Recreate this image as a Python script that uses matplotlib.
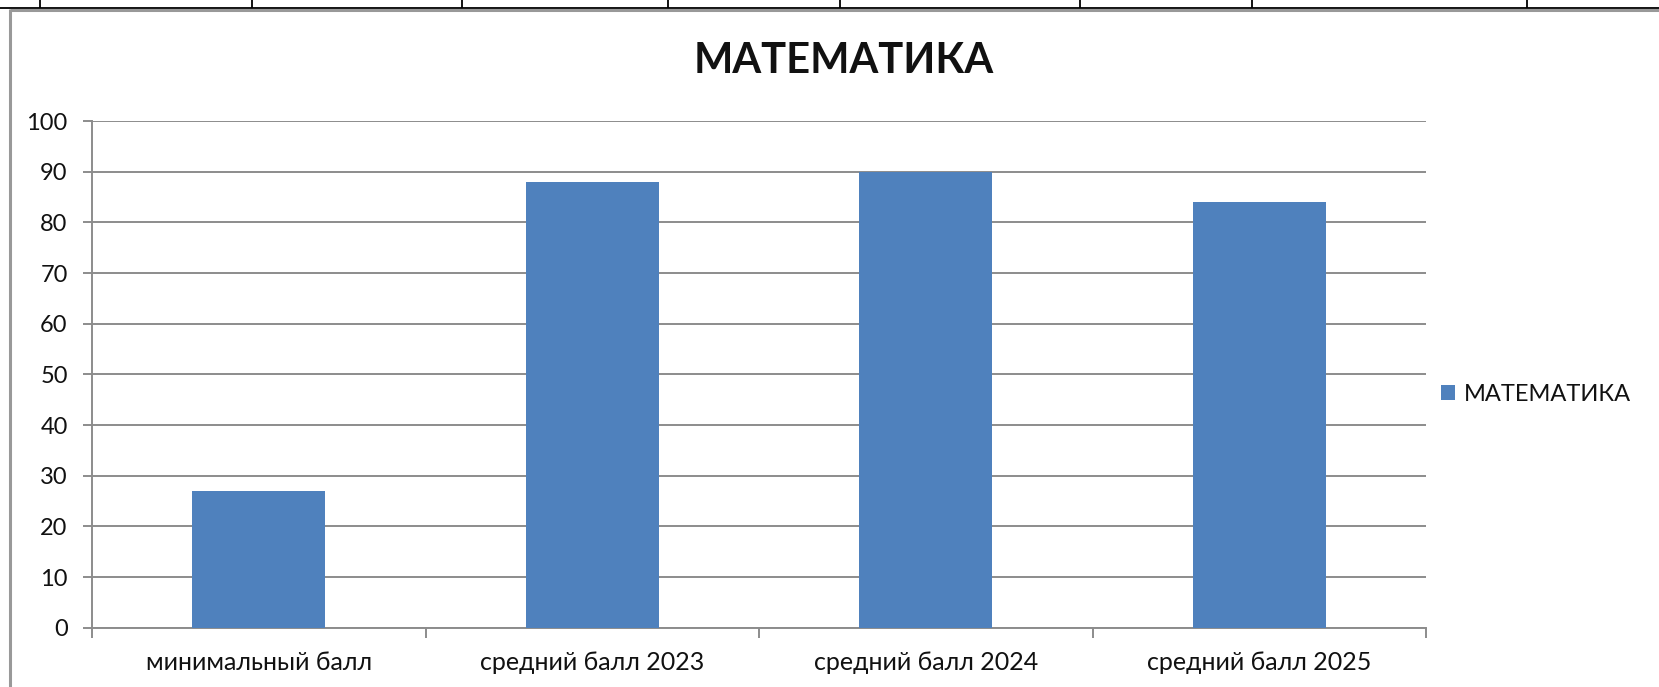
import matplotlib.pyplot as plt
from matplotlib.lines import Line2D
import numpy as np

categories = ['минимальный балл', 'средний балл 2023', 'средний балл 2024', 'средний балл 2025']
scores = [27, 88, 90, 84]
series_name = 'МАТЕМАТИКА'
y_ticks = [0, 10, 20, 30, 40, 50, 60, 70, 80, 90, 100]

plt.rcParams['font.family'] = ['Lato', 'DejaVu Sans']
text_color = '#111111'
grid_color = '#8c8c8c'

W, H = 1659, 687
fig = plt.figure(figsize=(W / 100, H / 100), dpi=100)
fig.patch.set_facecolor('white')

# chart area in pixel coords
left, right, top, bottom = 92, 1426, 121, 627.7
ax = fig.add_axes([left / W, 1 - bottom / H, (right - left) / W, (bottom - top) / H])

ind = np.arange(len(categories))
ax.bar(ind, scores, width=0.4, color='#4F81BD', zorder=3, label=series_name)

ax.set_xlim(-0.5, len(categories) - 0.5)
ax.set_ylim(0, 100)
ax.set_yticks(y_ticks)
ax.set_yticklabels([str(t) for t in y_ticks])
ax.yaxis.grid(True, color=grid_color, linewidth=1.4, zorder=0)

# category labels centred, tick marks at boundaries
ax.set_xticks(np.arange(-0.5, len(categories), 1.0))
ax.set_xticklabels([])
ax.set_xticks(ind, minor=True)
ax.set_xticklabels(categories, minor=True)
ax.tick_params(axis='x', which='major', length=7, width=1.4, color=grid_color, direction='out')
ax.tick_params(axis='x', which='minor', length=0, pad=17, labelsize=18, labelcolor=text_color)
ax.tick_params(axis='y', length=6.5, width=1.4, color=grid_color, pad=11, labelsize=17, labelcolor=text_color)

for s in ['top', 'right']:
    ax.spines[s].set_visible(False)
for s in ['left', 'bottom']:
    ax.spines[s].set_color(grid_color)
    ax.spines[s].set_linewidth(1.4)

fig.text(844 / W, 1 - 61 / H, 'МАТЕМАТИКА', ha='center', va='center',
         fontsize=30, fontweight='bold', color=text_color)

leg = fig.legend(loc='center left', bbox_to_anchor=(1441 / W, 1 - 394 / H), frameon=False,
                 fontsize=17, handlelength=0.6, handleheight=0.6, handletextpad=0.35,
                 borderpad=0, borderaxespad=0)
for t in leg.get_texts():
    t.set_color(text_color)

# table border on top and chart frame
def px_line(x0, y0, x1, y1, color, lw):
    fig.add_artist(Line2D([x0 / W, x1 / W], [1 - y0 / H, 1 - y1 / H], color=color,
                          linewidth=lw, transform=fig.transFigure, solid_capstyle='butt'))

px_line(0, 7.5, W, 7.5, 'black', 1.3)
for x in [40, 252, 462, 668, 840, 1080, 1252, 1527]:
    px_line(x, 0, x, 7.5, 'black', 1.3)
px_line(9.5, 10, W, 10, '#999999', 2.2)
px_line(9.5, 9, 9.5, H, '#999999', 2.2)

plt.savefig('out.png', dpi=100)
